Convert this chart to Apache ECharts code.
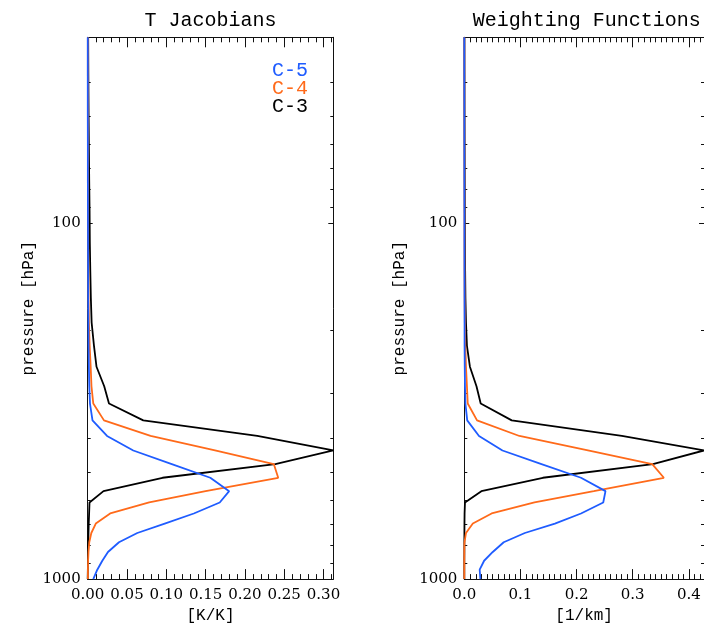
<!DOCTYPE html>
<html>
<head>
<meta charset="utf-8">
<script src="https://cdn.jsdelivr.net/npm/echarts@6/dist/echarts.min.js"></script>
<style>
  html, body { margin: 0; padding: 0; background: #ffffff; }
  #chart { width: 704px; height: 629px; }
</style>
</head>
<body>
<div id="chart"></div>
<script>
// Pressure levels of the profiles (hPa), top of atmosphere first
const pressure = [30, 37.6, 48, 60.5, 75.3, 92.6, 113, 136, 162, 190, 221, 253, 287, 321,
  358, 396, 435, 475, 519, 566, 609, 654, 698, 742, 788, 839, 888, 941, 1000];

// Temperature Jacobians [K/K]
const jacC3 = [0.0006, 0.0008, 0.0011, 0.0015, 0.0019, 0.0024, 0.0027, 0.0033, 0.0040, 0.0050,
  0.0080, 0.0112, 0.0210, 0.0271, 0.0707, 0.2158, 0.3125, 0.2387, 0.0952, 0.0201,
  0.0023, 0.0018, 0.0013, 0.0010, 0.0008, 0.0005, 0.0003, 0.0002, 0.0000];
const jacC4 = [0.0002, 0.0002, 0.0003, 0.0003, 0.0004, 0.0005, 0.0006, 0.0008, 0.0010, 0.0015,
  0.0025, 0.0038, 0.0048, 0.0071, 0.0207, 0.0800, 0.1620, 0.2368, 0.2424, 0.1500,
  0.0782, 0.0286, 0.0103, 0.0046, 0.0020, 0.0010, 0.0005, 0.0003, 0.0003];
const jacC5 = [0.0001, 0.0001, 0.0001, 0.0002, 0.0002, 0.0003, 0.0004, 0.0005, 0.0006, 0.0008,
  0.0010, 0.0015, 0.0020, 0.0029, 0.0061, 0.0246, 0.0580, 0.1070, 0.1560, 0.1800,
  0.1680, 0.1350, 0.0980, 0.0631, 0.0398, 0.0258, 0.0186, 0.0122, 0.0071];

// Weighting functions [1/km]
const wfC3 = [0.0002, 0.0003, 0.0004, 0.0006, 0.0008, 0.0010, 0.0012, 0.0015, 0.0020, 0.0030,
  0.0047, 0.0100, 0.0217, 0.0292, 0.0845, 0.2807, 0.4270, 0.3360, 0.1400, 0.0304,
  0.0012, 0.0005, 0.0003, 0.0002, 0.0001, 0.0001, 0.0000, 0.0000, 0.0000];
const wfC4 = [0.0001, 0.0001, 0.0001, 0.0002, 0.0002, 0.0003, 0.0003, 0.0004, 0.0006, 0.0010,
  0.0018, 0.0030, 0.0047, 0.0061, 0.0227, 0.0982, 0.2203, 0.3348, 0.3555, 0.2307,
  0.1250, 0.0487, 0.0152, 0.0030, 0.0003, 0.0000, 0.0000, 0.0000, 0.0000];
const wfC5 = [0.0000, 0.0000, 0.0001, 0.0001, 0.0001, 0.0002, 0.0002, 0.0003, 0.0004, 0.0005,
  0.0005, 0.0008, 0.0012, 0.0020, 0.0052, 0.0262, 0.0680, 0.1375, 0.2079, 0.2515,
  0.2475, 0.2079, 0.1614, 0.1078, 0.0702, 0.0507, 0.0353, 0.0274, 0.0286];

// Channel names, drawn in legend order, and their colours
const channels = ['C-5', 'C-4', 'C-3'];
const channelColors = { 'C-5': '#1f5cff', 'C-4': '#ff6a1a', 'C-3': '#000000' };

// Axis tick labels and tick spacing
const pressureLabels = [100, 1000];
const pressureMinorTicks = [40, 50, 60, 70, 80, 90, 200, 300, 400, 500, 600, 700, 800, 900];
const pressureRange = [30, 1000];
const jacMajorStep = 0.05, jacMinorStep = 0.01, jacDigits = 2;
const wfMajorStep = 0.1, wfMinorStep = 0.01, wfDigits = 1;

const MONO = 'Liberation Mono';
const SERIF = 'DejaVu Serif';
const AXIS_COLOR = '#111111';

const panels = [
  { title: 'T Jacobians', xName: '[K/K]', left: 87.7, width: 245.6, yNameGap: 51,
    major: jacMajorStep, minor: jacMinorStep, digits: jacDigits,
    values: { 'C-3': jacC3, 'C-4': jacC4, 'C-5': jacC5 } },
  { title: 'Weighting Functions', xName: '[1/km]', left: 464.3, width: 245, yNameGap: 57,
    major: wfMajorStep, minor: wfMinorStep, digits: wfDigits,
    values: { 'C-3': wfC3, 'C-4': wfC4, 'C-5': wfC5 } }
];
const GRID_TOP = 37.3, GRID_HEIGHT = 544.2;

const chart = echarts.init(document.getElementById('chart'), null, { renderer: 'canvas' });

const grid = [], xAxis = [], yAxis = [], series = [], title = [];

panels.forEach((p, i) => {
  const xMax = Math.max(...p.values['C-3']);
  grid.push({ left: p.left, top: GRID_TOP, width: p.width, height: GRID_HEIGHT, containLabel: false });
  title.push({
    text: p.title, left: p.left + p.width / 2, top: 11, textAlign: 'center', padding: 0,
    textStyle: { fontFamily: MONO, fontSize: 20, fontWeight: 'normal', color: '#000' }
  });

  const xCommon = {
    type: 'value', gridIndex: i, min: 0, max: xMax, interval: p.major,
    axisLine: { show: true, onZero: false, lineStyle: { color: AXIS_COLOR, width: 1 } },
    axisTick: { show: true, inside: true, length: 10, lineStyle: { color: AXIS_COLOR } },
    splitLine: { show: false }
  };
  xAxis.push(Object.assign({}, xCommon, {
    position: 'bottom',
    name: p.xName, nameLocation: 'middle', nameGap: 20,
    nameTextStyle: { fontFamily: MONO, fontSize: 16, color: '#000' },
    axisLabel: {
      show: true, margin: 9, showMaxLabel: false, showMinLabel: true,
      fontFamily: SERIF, fontSize: 15, color: '#000',
      formatter: v => v.toFixed(p.digits)
    }
  }));
  xAxis.push(Object.assign({}, xCommon, { position: 'top', axisLabel: { show: false } }));

  const yCommon = {
    type: 'log', logBase: 10, gridIndex: i, min: pressureRange[0], max: pressureRange[1], inverse: true,
    axisLine: { show: true, onZero: false, lineStyle: { color: AXIS_COLOR, width: 1 } },
    axisTick: { show: true, inside: true, length: 5, lineStyle: { color: AXIS_COLOR } },
    splitLine: { show: false }
  };
  yAxis.push(Object.assign({}, yCommon, {
    position: 'left',
    name: 'pressure [hPa]', nameLocation: 'middle', nameGap: p.yNameGap,
    nameTextStyle: { fontFamily: MONO, fontSize: 16, color: '#000' },
    axisLabel: {
      show: true, margin: 7, fontFamily: SERIF, fontSize: 15, color: '#000',
      formatter: v => {
        const r = Math.round(v);
        return (Math.abs(v - r) < 1e-6 && pressureLabels.indexOf(r) >= 0) ? String(r) : '';
      }
    }
  }));
  yAxis.push(Object.assign({}, yCommon, { position: 'right', axisLabel: { show: false } }));

  // Minor ticks on all four sides, placed through the panel's axes
  const tickData = [];
  for (let k = 1; k * p.minor < xMax; k++) {
    const v = +(k * p.minor).toFixed(4);
    if (Math.abs(v / p.major - Math.round(v / p.major)) > 1e-6) tickData.push([v, 100, 0]);
  }
  pressureMinorTicks.forEach(pr => tickData.push([0, pr, 1]));
  series.push({
    type: 'custom', xAxisIndex: 2 * i, yAxisIndex: 2 * i, silent: true, z: 1,
    encode: { x: 0, y: 1 },
    data: tickData,
    renderItem: (params, api) => {
      const cs = params.coordSys;
      const pt = api.coord([api.value(0), api.value(1)]);
      const st = { stroke: AXIS_COLOR, lineWidth: 1 };
      if (api.value(2) === 0) {
        const x = Math.round(pt[0]) + 0.5;
        const yb = cs.y + cs.height, yt = cs.y;
        return { type: 'group', children: [
          { type: 'line', shape: { x1: x, y1: yb, x2: x, y2: yb - 5 }, style: st },
          { type: 'line', shape: { x1: x, y1: yt, x2: x, y2: yt + 5 }, style: st }
        ] };
      }
      const y = Math.round(pt[1]) + 0.5;
      const xl = cs.x, xr = cs.x + cs.width;
      return { type: 'group', children: [
        { type: 'line', shape: { x1: xl, y1: y, x2: xl + 3, y2: y }, style: st },
        { type: 'line', shape: { x1: xr, y1: y, x2: xr - 3, y2: y }, style: st }
      ] };
    }
  });

  // Profiles: black first, blue on top
  ['C-3', 'C-4', 'C-5'].forEach(name => {
    series.push({
      type: 'line', name: name, xAxisIndex: 2 * i, yAxisIndex: 2 * i,
      data: p.values[name].map((v, k) => [v, pressure[k]]),
      showSymbol: false, symbol: 'none', smooth: false, clip: true, z: 3,
      lineStyle: { color: channelColors[name], width: 1.8 },
      itemStyle: { color: channelColors[name] },
      animation: false
    });
  });
});

// Channel key inside the first panel
const legendText = channels.map((name, k) => ({
  type: 'text', right: 704 - 308, top: 61 + k * 18,
  style: { text: name, fill: channelColors[name], font: '20px "' + MONO + '"', textAlign: 'right' }
}));

chart.setOption({
  backgroundColor: '#ffffff',
  animation: false,
  title: title,
  grid: grid,
  xAxis: xAxis,
  yAxis: yAxis,
  series: series,
  graphic: legendText
});
</script>
</body>
</html>
